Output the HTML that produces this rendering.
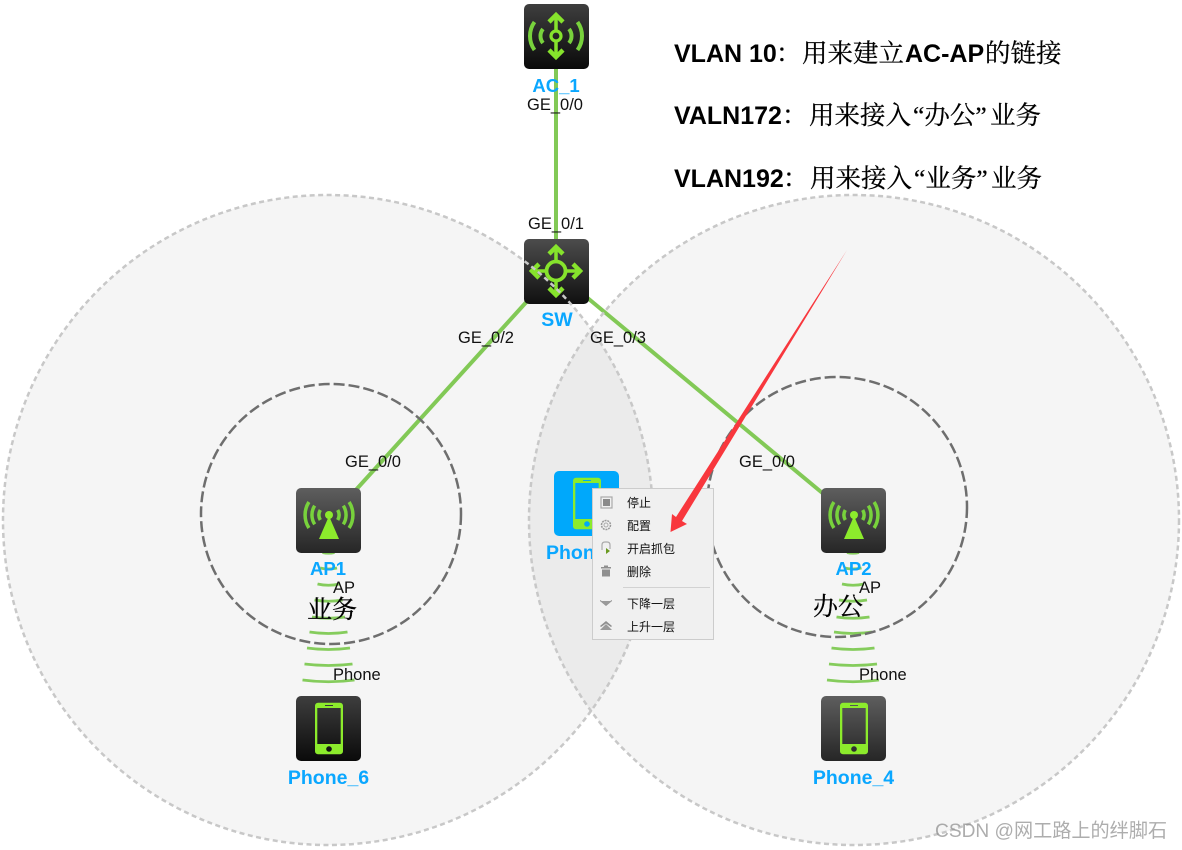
<!DOCTYPE html>
<html><head><meta charset="utf-8"><style>
html,body{margin:0;padding:0;background:#fff}
svg{display:block}
.s{font:16.5px "Liberation Sans","Noto Sans CJK SC",sans-serif;fill:#111}
.b{font:bold 18.5px "Liberation Sans","Noto Sans CJK SC",sans-serif;fill:#0aa7ff}
.l{font:bold 19.5px "Liberation Sans","Noto Sans CJK SC",sans-serif;fill:#0aa7ff}
.h{font:bold 25px "Liberation Sans","Noto Serif CJK SC",serif;fill:#000}
.c{font:400 25.5px "Noto Serif CJK SC",serif;fill:#000;stroke:#000;stroke-width:.25}
.q{font:400 25.5px "Liberation Serif","Noto Serif CJK SC",serif;fill:#000;stroke:#000;stroke-width:.25}
.m{font:12px "Liberation Sans","Noto Sans CJK SC",sans-serif;fill:#111}
.z{font:400 25px "Noto Serif CJK SC",serif;fill:#000;stroke:#000;stroke-width:.3}
</style></head><body>
<svg width="1182" height="850" viewBox="0 0 1182 850" xmlns="http://www.w3.org/2000/svg">
<defs>
<linearGradient id="g1" x1="0" y1="0" x2="0" y2="1"><stop offset="0" stop-color="#4c4c4c"/><stop offset="1" stop-color="#101010"/></linearGradient>
<linearGradient id="g2" x1="0" y1="0" x2="0" y2="1"><stop offset="0" stop-color="#5e5e5e"/><stop offset="1" stop-color="#262626"/></linearGradient>
<linearGradient id="g3" x1="0" y1="0" x2="0" y2="1"><stop offset="0" stop-color="#3e3e3e"/><stop offset="1" stop-color="#0a0a0a"/></linearGradient>
<g id="ph"><path fill="#8ceb2c" fill-rule="evenodd" d="M22 6.700h22a3 3 0 0 1 3 3v45.500a3 3 0 0 1-3 3h-22a3 3 0 0 1-3-3v-45.500a3 3 0 0 1 3-3zM21.300 12v36h23.400v-36zM33 50.200a2.800 2.800 0 1 0 .01 0zM29 9v1h8v-1z"/></g>
<g id="apx"><circle cx="33" cy="27" r="4" fill="#8ceb2c"/><path d="M33 28l10 23h-20z" fill="#8ceb2c"/>
<path fill="none" stroke="#78d23c" stroke-width="3.500" d="M24.300 22a10 10 0 0 0 0 10M41.700 22a10 10 0 0 1 0 10M18.700 17.700a17 17 0 0 0 0 18.600M47.300 17.700a17 17 0 0 1 0 18.600M12.900 14a24 24 0 0 0 0 26M53.100 14a24 24 0 0 1 0 26"/></g>
<g id="w"><path fill="none" stroke="#85cc5c" stroke-width="2.800" d="M-6 64.500q6 1.500 12 0M-8.500 80q8.500 2 17 0M-11 96q11 2.500 22 0M-14 112q14 2.500 28 0M-16.500 129q16.500 2.500 33 0M-19 144q19 3 38 0M-21.500 160q21.500 3 43 0M-24 176q24 3 48 0M-26 192q26 3.500 52 0"/></g>
</defs>
<rect width="1182" height="850" fill="#fff"/>

<circle cx="328" cy="520" r="325" fill="#000" fill-opacity=".04"/>
<circle cx="854" cy="520" r="325" fill="#000" fill-opacity=".04"/>

<!-- wave links -->
<use href="#w" x="328.500" y="488"/>
<use href="#w" x="853" y="488"/>

<!-- links -->
<g stroke="#82c956" stroke-width="4" fill="none">
<path d="M556 66V242"/>
<path d="M530 298L354 492"/>
<path d="M584 295L826 496"/>
</g>

<!-- AC -->
<g transform="translate(524,4)">
<rect width="65" height="65" rx="5" fill="url(#g3)"/>
<g fill="none" stroke="#86e32c">
<path d="M32 12V26M32 38V52" stroke-width="3.500"/>
<path d="M25 18l7-7 7 7M25 46l7 7 7-7" stroke-width="4.500"/>
<circle cx="32" cy="32" r="5" stroke-width="3.200"/>
<path d="M19 25a11 11 0 0 0 0 14M45 25a11 11 0 0 1 0 14M10.500 18a24 24 0 0 0 0 28M53.500 18a24 24 0 0 1 0 28" stroke="#78d23c" stroke-width="4"/>
</g></g>

<!-- SW -->
<g transform="translate(524,239)">
<rect width="65" height="65" rx="5" fill="url(#g1)"/>
<g fill="none" stroke="#86e32c" stroke-width="4.500">
<circle cx="32" cy="32" r="9.500" stroke-width="3.800"/>
<path d="M32 9V22M32 42V55M9 32H22M42 32H55" stroke-width="3.500"/>
<path d="M25 15l7-7 7 7M25 49l7 7 7-7M15 25l-7 7 7 7M49 25l7 7-7 7"/>
</g></g>

<!-- AP1 / AP2 -->
<g transform="translate(296,488)"><rect width="65" height="65" rx="5" fill="url(#g2)"/><use href="#apx"/></g>
<g transform="translate(821,488)"><rect width="65" height="65" rx="5" fill="url(#g2)"/><use href="#apx"/></g>

<!-- Phones -->
<g transform="translate(296,696)"><rect width="65" height="65" rx="5" fill="url(#g3)"/><use href="#ph"/></g>
<g transform="translate(821,696)"><rect width="65" height="65" rx="5" fill="url(#g2)"/><use href="#ph"/></g>
<g transform="translate(554,471)"><rect width="65" height="65" rx="5" fill="#00a8fb"/><use href="#ph"/></g>

<!-- circle outlines -->
<circle cx="328" cy="520" r="325" fill="none" stroke="#c8c8c8" stroke-width="2.500" stroke-dasharray="5 3.500"/>
<circle cx="854" cy="520" r="325" fill="none" stroke="#c8c8c8" stroke-width="2.500" stroke-dasharray="5 3.500"/>
<circle cx="331" cy="514" r="130" fill="none" stroke="#6e6e6e" stroke-width="2.500" stroke-dasharray="11 4"/>
<circle cx="837" cy="507" r="130" fill="none" stroke="#6e6e6e" stroke-width="2.500" stroke-dasharray="11 4"/>

<!-- node labels -->
<text class="b" x="556" y="92" text-anchor="middle">AC_1</text>
<text class="l" x="557" y="326" text-anchor="middle">SW</text>
<text class="b" x="328" y="575" text-anchor="middle">AP1</text>
<text class="b" x="853.500" y="575" text-anchor="middle">AP2</text>
<text class="l" x="328.500" y="784" text-anchor="middle">Phone_6</text>
<text class="l" x="853.500" y="784" text-anchor="middle">Phone_4</text>
<text class="l" x="546" y="559">Phone</text>

<!-- port labels -->
<text class="s" x="527" y="110">GE_0/0</text>
<text class="s" x="528" y="229">GE_0/1</text>
<text class="s" x="458" y="343">GE_0/2</text>
<text class="s" x="590" y="343">GE_0/3</text>
<text class="s" x="345" y="467">GE_0/0</text>
<text class="s" x="739" y="467">GE_0/0</text>
<text class="s" x="333" y="593">AP</text>
<text class="s" x="859" y="593">AP</text>
<text class="s" x="333" y="680">Phone</text>
<text class="s" x="859" y="680">Phone</text>

<text class="z" x="307" y="618">业务</text>
<text class="z" x="813" y="615">办公</text>

<!-- context menu -->
<rect x="592.500" y="488.500" width="121" height="151" fill="#f0f0f0" stroke="#cccccc"/>
<rect x="601" y="497" width="11" height="11" fill="none" stroke="#a9a9a9" stroke-width="1.200"/>
<rect x="603" y="499" width="7" height="7" fill="#8a8a8a"/>
<circle cx="606" cy="525" r="4.500" fill="none" stroke="#9a9a9a" stroke-width="1.500" stroke-dasharray="2 .8"/>
<circle cx="606" cy="525" r="2" fill="none" stroke="#aaa"/>
<path d="M602 550v-5q0-3 3-3h2q3 0 3 3v4" fill="none" stroke="#aaa" stroke-width="1.200"/>
<path d="M606 548l4 3-4 3z" fill="#6a9a20"/>
<path d="M601 567h10v1.500h-10zM604 565.500h4v1.500h-4zM602 569.500h8v7h-8z" fill="#8f8f8f"/>
<path d="M600 600l6 3.500 6-3.500v1l-6 5-6-5z" fill="#8f8f8f"/>
<path d="M600 601h12l-6 4z" fill="#9a9a9a"/>
<path d="M600 630h12l-6-6z" fill="#9a9a9a"/>
<path d="M600 626l6-5 6 5-1 1-5-3.500-5 3.500z" fill="#8f8f8f"/>
<text class="m" x="627" y="507">停止</text>
<text class="m" x="627" y="530">配置</text>
<text class="m" x="627" y="553">开启抓包</text>
<text class="m" x="627" y="576">删除</text>
<rect x="623" y="587" width="87" height="1" fill="#d2d2d2"/>
<text class="m" x="627" y="608">下降一层</text>
<text class="m" x="627" y="631">上升一层</text>

<!-- red arrow -->
<polygon points="847,250 682,521 687,524 670.500,532 672,514 676,517" fill="#f8373d"/>

<!-- header -->
<text class="h" x="674" y="62">VLAN 10<tspan class="c" x="776">：</tspan><tspan class="c" x="802">用来建立</tspan><tspan x="905">AC-AP</tspan><tspan class="c" x="985">的链接</tspan></text>
<text class="h" x="674" y="124">VALN172<tspan class="c" x="782">：</tspan><tspan class="c" x="809">用来接入</tspan><tspan class="q" x="913">“办公”</tspan><tspan class="c" x="990">业务</tspan></text>
<text class="h" x="674" y="187">VLAN192<tspan class="c" x="783">：</tspan><tspan class="c" x="810">用来接入</tspan><tspan class="q" x="914">“业务”</tspan><tspan class="c" x="991">业务</tspan></text>

<text x="935" y="837" style="font:19.150px 'Liberation Sans','Noto Sans CJK SC',sans-serif;fill:#8a8a8a;fill-opacity:.7">CSDN @网工路上的绊脚石</text>
</svg>
</body></html>
